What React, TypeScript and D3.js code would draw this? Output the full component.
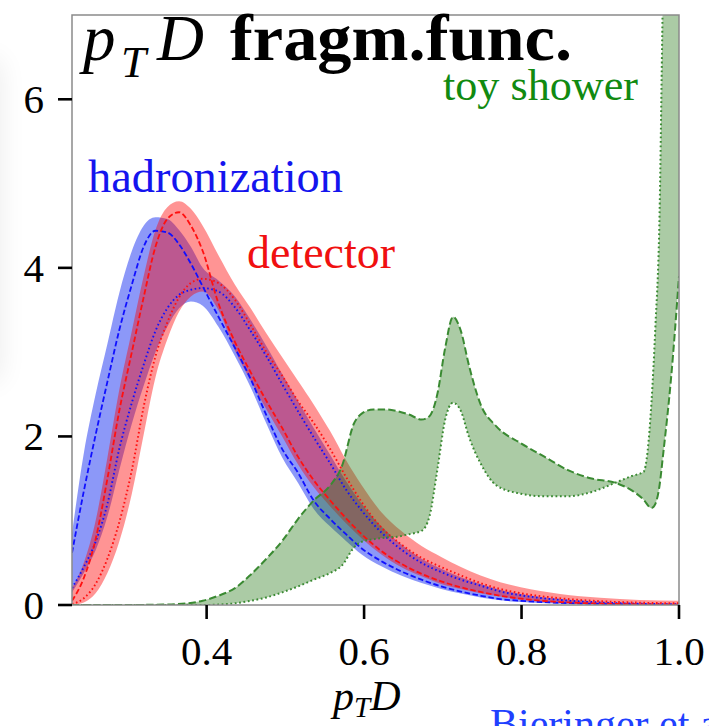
import * as d3 from 'd3'

// pT D grid shared by the hadronization / detector curves
const gridX = [0.229, 0.244, 0.259, 0.274, 0.289, 0.305, 0.32, 0.335, 0.35, 0.365, 0.38, 0.395, 0.415, 0.436, 0.456, 0.476, 0.496, 0.516, 0.536, 0.557, 0.577, 0.597, 0.622, 0.647, 0.673, 0.698, 0.723, 0.748, 0.773, 0.799, 0.849, 0.9, 0.95, 1.0]
const hadDashed = [0.62, 1.35, 2.02, 2.65, 3.26, 3.8, 4.25, 4.44, 4.42, 4.28, 4.05, 3.78, 3.42, 3.05, 2.68, 2.25, 1.85, 1.57, 1.24, 1.02, 0.84, 0.67, 0.52, 0.4, 0.3, 0.22, 0.16, 0.11, 0.07, 0.05, 0.025, 0.012, 0.006, 0.003]
const hadDotted = [0.2, 0.45, 0.75, 1.2, 1.85, 2.4, 2.85, 3.25, 3.52, 3.68, 3.74, 3.76, 3.72, 3.53, 3.25, 2.95, 2.62, 2.3, 1.99, 1.68, 1.37, 1.12, 0.86, 0.66, 0.5, 0.39, 0.3, 0.23, 0.16, 0.115, 0.06, 0.03, 0.015, 0.008]
const hadUpper = [0.85, 1.8, 2.5, 3.1, 3.7, 4.2, 4.5, 4.6, 4.58, 4.45, 4.25, 4.0, 3.85, 3.66, 3.38, 3.07, 2.74, 2.42, 2.1, 1.78, 1.47, 1.2, 0.93, 0.72, 0.55, 0.43, 0.33, 0.25, 0.18, 0.13, 0.07, 0.035, 0.018, 0.01]
const hadLower = [0.15, 0.38, 0.65, 1.05, 1.6, 2.15, 2.6, 3.0, 3.3, 3.52, 3.6, 3.55, 3.3, 2.95, 2.58, 2.15, 1.75, 1.45, 1.14, 0.93, 0.76, 0.6, 0.46, 0.35, 0.26, 0.19, 0.135, 0.09, 0.055, 0.035, 0.015, 0.006, 0.003, 0.001]
const detDashed = [0.05, 0.32, 0.78, 1.5, 2.3, 3.0, 3.65, 4.25, 4.58, 4.66, 4.5, 4.2, 3.58, 3.12, 2.76, 2.42, 2.1, 1.76, 1.48, 1.24, 1.03, 0.84, 0.64, 0.49, 0.37, 0.28, 0.21, 0.155, 0.11, 0.075, 0.035, 0.017, 0.008, 0.004]
const detDotted = [0.01, 0.08, 0.25, 0.55, 0.98, 1.6, 2.35, 2.95, 3.35, 3.65, 3.82, 3.87, 3.82, 3.62, 3.32, 3.0, 2.72, 2.42, 2.16, 1.85, 1.52, 1.22, 0.92, 0.72, 0.56, 0.45, 0.35, 0.26, 0.19, 0.14, 0.08, 0.045, 0.028, 0.02]
const detUpper = [0.2, 0.5, 1.0, 1.75, 2.55, 3.25, 3.9, 4.45, 4.72, 4.79, 4.7, 4.5, 4.15, 3.8, 3.52, 3.22, 2.94, 2.66, 2.38, 2.06, 1.72, 1.42, 1.1, 0.88, 0.7, 0.57, 0.45, 0.35, 0.27, 0.21, 0.13, 0.085, 0.06, 0.05]
const detLower = [0, 0.03, 0.14, 0.38, 0.75, 1.32, 2.02, 2.7, 3.15, 3.48, 3.66, 3.72, 3.5, 3.02, 2.66, 2.32, 2.0, 1.67, 1.4, 1.17, 0.97, 0.79, 0.6, 0.45, 0.34, 0.25, 0.19, 0.14, 0.1, 0.065, 0.03, 0.014, 0.006, 0.003]

// toy shower has its own, finer grid around the peaks
const toyX = [0.229, 0.294, 0.345, 0.375, 0.395, 0.415, 0.436, 0.456, 0.476, 0.496, 0.516, 0.536, 0.557, 0.572, 0.587, 0.597, 0.612, 0.627, 0.642, 0.657, 0.673, 0.683, 0.693, 0.703, 0.713, 0.723, 0.733, 0.748, 0.768, 0.799, 0.829, 0.859, 0.889, 0.919, 0.94, 0.955, 0.965, 0.97, 0.975, 0.98, 0.99, 1.0]
const toyDashed = [0, 0, 0.005, 0.02, 0.05, 0.11, 0.2, 0.36, 0.55, 0.76, 1.02, 1.24, 1.42, 1.65, 2.15, 2.27, 2.32, 2.32, 2.3, 2.26, 2.2, 2.24, 2.5, 3.05, 3.42, 3.25, 2.85, 2.38, 2.12, 1.92, 1.76, 1.6, 1.5, 1.45, 1.36, 1.25, 1.15, 1.2, 1.4, 1.8, 2.7, 3.9]
const toyDotted = [0, 0, 0, 0, 0, 0.005, 0.02, 0.05, 0.09, 0.15, 0.22, 0.3, 0.38, 0.47, 0.68, 0.75, 0.78, 0.8, 0.81, 0.84, 0.88, 1.05, 1.6, 2.2, 2.4, 2.3, 2.0, 1.68, 1.42, 1.32, 1.29, 1.29, 1.34, 1.45, 1.53, 1.58, 2.4, 3.3, 4.5, 7.5, 10, 12]

const xTicks = [0.4, 0.6, 0.8, 1.0]
const yTicks = [0, 2, 4, 6]

const W = 709, H = 726
const left = 72, right = 679, top = 15, bottom = 605

const x = d3.scaleLinear().domain([0.229, 1.0]).range([left, right])
const y = d3.scaleLinear().domain([0, 7]).range([bottom, top])

const line = (xs: number[], ys: number[]) =>
    d3.line<number>()
        .x((d, i) => x(xs[i]))
        .y(d => y(d))
        .curve(d3.curveMonotoneX)(ys) || ''

const band = (xs: number[], a: number[], b: number[]) =>
    d3.area<number>()
        .x((d, i) => x(xs[i]))
        .y0((d, i) => y(b[i]))
        .y1(d => y(d))
        .curve(d3.curveMonotoneX)(a) || ''

const serif = '"Liberation Serif", "Times New Roman", serif'

const App = () => {
    const blue = '#1010ff', red = '#ff1010', green = '#3a8a32'
    return (
        <svg width={W} height={H} style={{ position: 'absolute', left: 0, top: 0 }} fontFamily={serif}>
            <defs>
                <clipPath id="plotClip">
                    <rect x={left} y={top} width={right - left} height={bottom - top} />
                </clipPath>
                <filter id="soft" x="-100%" y="-50%" width="300%" height="200%">
                    <feGaussianBlur stdDeviation="14" />
                </filter>
            </defs>
            <rect x={0} y={0} width={W} height={H} fill="white" />
            {/* faint page shadow on the left */}
            <rect x={-30} y={60} width={30} height={320} fill="#000" opacity={0.08} filter="url(#soft)" />

            <g clipPath="url(#plotClip)">
                <path d={band(gridX, hadUpper, hadLower)} fill="rgb(0,26,240)" fillOpacity={0.45} />
                <path d={band(gridX, detUpper, detLower)} fill="#ff0000" fillOpacity={0.42} />
                <path d={band(toyX, toyDashed, toyDotted)} fill="rgb(45,125,30)" fillOpacity={0.4} />

                <path d={line(gridX, hadDashed)} fill="none" stroke={blue} strokeWidth={1.8} strokeDasharray="5.5,2.6" />
                <path d={line(gridX, hadDotted)} fill="none" stroke={blue} strokeWidth={1.9} strokeDasharray="1.6,2.6" />
                <path d={line(gridX, detDashed)} fill="none" stroke={red} strokeWidth={1.8} strokeDasharray="5.5,2.6" />
                <path d={line(gridX, detDotted)} fill="none" stroke={red} strokeWidth={1.9} strokeDasharray="1.6,2.6" />
                <path d={line(toyX, toyDashed)} fill="none" stroke={green} strokeWidth={2} strokeDasharray="7.4,3.2" />
                <path d={line(toyX, toyDotted)} fill="none" stroke={green} strokeWidth={2} strokeDasharray="1.8,2.6" />
            </g>

            {/* frame */}
            <rect x={left} y={top} width={right - left} height={bottom - top} fill="none" stroke="#8a8a8a" strokeWidth={1.5} />

            {/* y axis */}
            {yTicks.map(t => (
                <g key={'y' + t}>
                    <line x1={left - 14} x2={left} y1={y(t)} y2={y(t)} stroke="black" strokeWidth={2.6} />
                    <text x={44} y={y(t)} dy="0.34em" textAnchor="end" fontSize={41}>{t}</text>
                </g>
            ))}

            {/* x axis */}
            {xTicks.map(t => (
                <g key={'x' + t}>
                    <line x1={x(t)} x2={x(t)} y1={bottom} y2={bottom + 14} stroke="black" strokeWidth={2.6} />
                    <text x={x(t)} y={665} textAnchor="middle" fontSize={41}>{t.toFixed(1)}</text>
                </g>
            ))}
            <text x={333} y={710} fontSize={42} fontStyle="italic">
                p<tspan fontSize={29} dy={7}>T</tspan><tspan dy={-7}>D</tspan>
            </text>

            {/* title */}
            <text x={83} y={60} fontSize={65} fontStyle="italic">
                p<tspan x={121} fontSize={45} dy={17}>T</tspan><tspan x={157} dy={-17}>D</tspan>
            </text>
            <text x={230} y={60} fontSize={66} fontWeight="bold" textLength={342} lengthAdjust="spacingAndGlyphs">fragm.func.</text>

            {/* curve labels */}
            <text x={443} y={100} fontSize={45} fill="#118a11" textLength={195} lengthAdjust="spacingAndGlyphs">toy shower</text>
            <text x={88} y={192} fontSize={46} fill="#1414ee" textLength={255} lengthAdjust="spacingAndGlyphs">hadronization</text>
            <text x={247} y={268} fontSize={46} fill="#f01010" textLength={148} lengthAdjust="spacingAndGlyphs">detector</text>

            {/* neighbouring caption cut off by the window */}
            <text x={490} y={738} fontSize={42} fill="#2040ff">Bieringer et al.</text>
        </svg>
    )
}

export default App
